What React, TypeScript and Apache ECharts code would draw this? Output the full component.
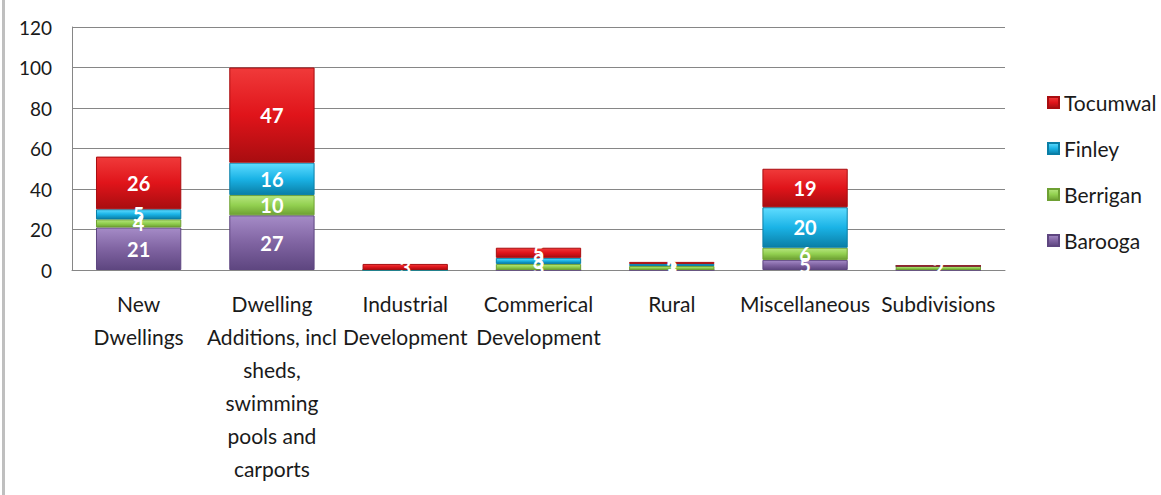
import React, { useEffect, useRef } from "react";
import * as echarts from "echarts";

const categories = [
  "New\nDwellings",
  "Dwelling\nAdditions, incl\nsheds,\nswimming\npools and\ncarports",
  "Industrial\nDevelopment",
  "Commerical\nDevelopment",
  "Rural",
  "Miscellaneous",
  "Subdivisions",
];
const barooga = [21, 27, 0, 0, 0, 5, 0];
const berrigan = [4, 10, 0, 3, 2, 6, 2];
const finley = [5, 16, 0, 3, 1, 20, 0];
const tocumwal = [26, 47, 3, 5, 1, 19, 0];
const yTicks = { min: 0, max: 120, interval: 20 };

const FONT = "Lato, 'Open Sans', sans-serif";

function grad(top: string, mid: string, bottom: string) {
  return new echarts.graphic.LinearGradient(0, 0, 0, 1, [
    { offset: 0, color: top },
    { offset: 0.5, color: mid },
    { offset: 1, color: bottom },
  ]);
}

export default function App() {
  const ref = useRef<HTMLDivElement>(null);
  useEffect(() => {
    if (!ref.current) return;
    const chart = echarts.init(ref.current, null, { renderer: "svg" });
    const mk = (name: string, data: number[], fill: any, border: string) => ({
      name,
      type: "bar",
      stack: "total",
      data,
      barWidth: "64%",
      itemStyle: { color: fill, borderColor: border, borderWidth: 1 },
      label: {
        show: true,
        position: "inside",
        color: "#ffffff",
        fontFamily: FONT,
        fontWeight: "bold",
        fontSize: 20,
        formatter: (p: any) => (p.value === 0 ? "" : String(p.value)),
      },
    });
    chart.setOption({
      animation: false,
      backgroundColor: "#ffffff",
      textStyle: { fontFamily: FONT },
      grid: { left: 72, right: 156, top: 27, bottom: 225, containLabel: false },
      legend: {
        orient: "vertical",
        left: 1042,
        top: 87,
        itemGap: 25,
        itemWidth: 11,
        itemHeight: 11,
        icon: "rect",
        data: ["Tocumwal", "Finley", "Berrigan", "Barooga"],
        textStyle: { fontFamily: FONT, fontSize: 21, color: "#1a1a1a" },
      },
      xAxis: {
        type: "category",
        data: categories,
        axisLine: { lineStyle: { color: "#868686" } },
        axisTick: { show: false },
        axisLabel: {
          interval: 0,
          fontFamily: FONT,
          fontSize: 21,
          color: "#1a1a1a",
          lineHeight: 33,
          margin: 17,
        },
      },
      yAxis: {
        type: "value",
        min: yTicks.min,
        max: yTicks.max,
        interval: yTicks.interval,
        axisLine: { show: true, lineStyle: { color: "#868686" } },
        axisTick: { show: false },
        splitLine: { lineStyle: { color: "#868686" } },
        axisLabel: { fontFamily: FONT, fontSize: 19, color: "#1a1a1a", margin: 20 },
      },
      graphic: [
        {
          type: "line",
          shape: { x1: 3.5, y1: 0, x2: 3.5, y2: 495 },
          style: { stroke: "#bfbfbf", lineWidth: 3 },
        },
      ],
      series: [
        mk("Barooga", barooga, grad("#a58bc7", "#8064a2", "#5e4680"), "#5e4680"),
        mk("Berrigan", berrigan, grad("#b6e57f", "#92d050", "#6ea033"), "#6ea033"),
        mk("Finley", finley, grad("#5fdcff", "#1ab3e6", "#0a7ea6"), "#0a7ea6"),
        mk("Tocumwal", tocumwal, grad("#f03a3a", "#e0141a", "#a80d10"), "#a80d10"),
      ],
    });
    return () => chart.dispose();
  }, []);
  return (
    <div
      ref={ref}
      style={{ position: "absolute", left: 0, top: 0, width: 1161, height: 495 }}
    />
  );
}
